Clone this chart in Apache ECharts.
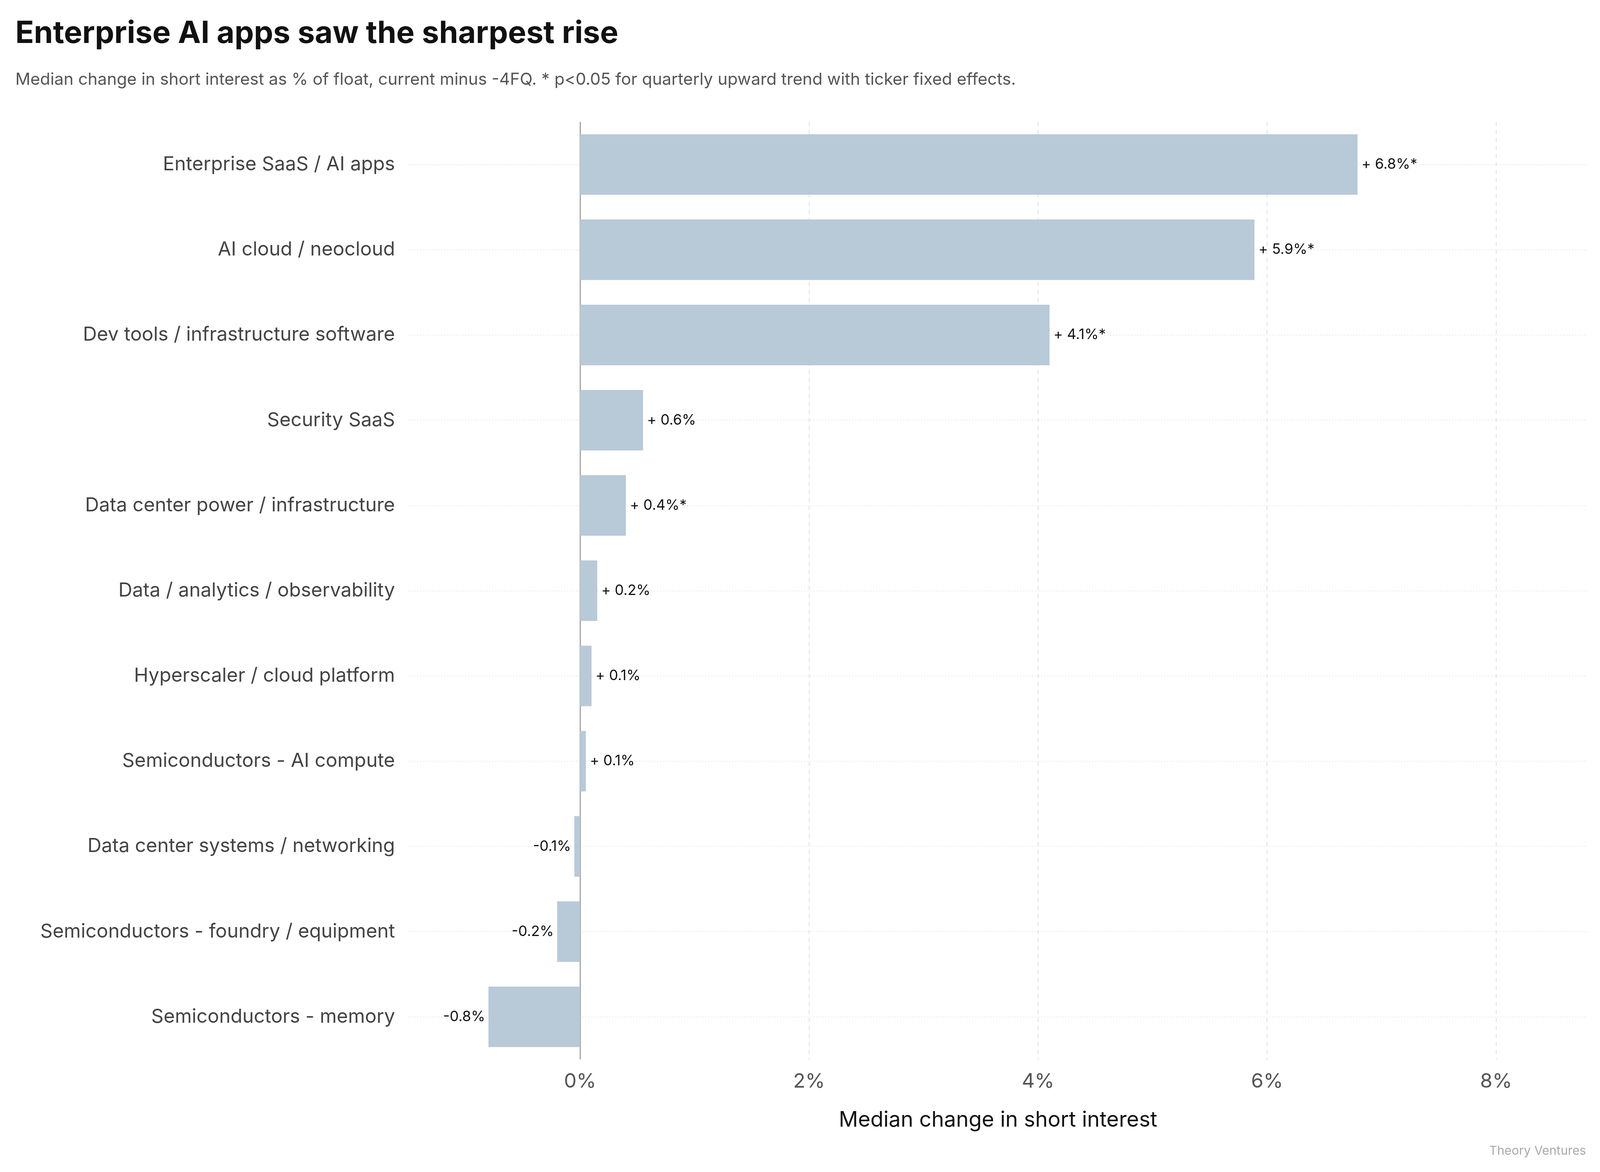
<!DOCTYPE html>
<html>
<head>
<meta charset="utf-8">
<script src="https://cdn.jsdelivr.net/npm/echarts@6/dist/echarts.min.js"></script>
<style>
  html, body { margin: 0; padding: 0; background: #fff; overflow: hidden; }
  #chart { width: 100vw; height: 100vh; }
</style>
</head>
<body>
<div id="chart"></div>
<script>
// 数据
const categories = [
    'Enterprise SaaS / AI apps',
    'AI cloud / neocloud',
    'Dev tools / infrastructure software',
    'Security SaaS',
    'Data center power / infrastructure',
    'Data / analytics / observability',
    'Hyperscaler / cloud platform',
    'Semiconductors - AI compute',
    'Data center systems / networking',
    'Semiconductors - foundry / equipment',
    'Semiconductors - memory'
];
const values = [6.79, 5.89, 4.10, 0.55, 0.40, 0.15, 0.10, 0.05, -0.05, -0.20, -0.80];
const valueLabels = ['+ 6.8%*', '+ 5.9%*', '+ 4.1%*', '+ 0.6%', '+ 0.4%*', '+ 0.2%', '+ 0.1%', '+ 0.1%', '-0.1%', '-0.2%', '-0.8%'];
const xTicks = [0, 2, 4, 6, 8];

const FONT = 'Inter, Roboto, sans-serif';
const dom = document.getElementById('chart');
const chart = echarts.init(dom);

// 按实际窗口尺寸缩放
const sx = dom.clientWidth / 4800;
const sy = dom.clientHeight / 3000;
const s = Math.min(sx, sy);

// 网格线用 markLine 画
const gridLines = xTicks.filter(v => v !== 0).map(v => ({
    xAxis: v,
    lineStyle: { color: '#e4e4e4', type: [12 * s, 12 * s], width: 3 * s }
}));
const rowLines = categories.map(c => ([
    { coord: [-1.5, c] },
    { coord: [8.8, c], lineStyle: { color: '#e8e8e8', type: [3 * s, 6 * s], width: 3 * s } }
]));

chart.setOption({
    animation: false,
    title: [{
        text: 'Enterprise AI apps saw the sharpest rise',
        left: 40 * sx, top: 42 * sy,
        textStyle: { fontFamily: FONT, fontSize: 92 * s, fontWeight: 'bold', color: '#111' }
    }, {
        text: 'Median change in short interest as % of float, current minus -4FQ. * p<0.05 for quarterly upward trend with ticker fixed effects.',
        left: 40 * sx, top: 178 * sy,
        textStyle: { fontFamily: FONT, fontSize: 50 * s, fontWeight: 'normal', color: '#555' }
    }, {
        text: 'Theory Ventures',
        right: 36 * sx, top: 2925 * sy,
        textStyle: { fontFamily: FONT, fontSize: 37 * s, fontWeight: 'normal', color: '#aaa' }
    }],
    grid: { left: 1225 * sx, right: 37 * sx, top: 312 * sy, bottom: 288 * sy },
    xAxis: {
        type: 'value',
        min: -1.5, max: 8.8, interval: 0.5,
        name: 'Median change in short interest',
        nameLocation: 'middle', nameGap: 150 * s,
        nameTextStyle: { fontFamily: FONT, fontSize: 64 * s, color: '#111' },
        axisLine: { show: false },
        axisTick: { show: false },
        splitLine: { show: false },
        axisLabel: {
            margin: 36 * s,
            fontFamily: FONT, fontSize: 60 * s, color: '#555',
            formatter: v => (xTicks.indexOf(v) >= 0 ? v + '%' : '')
        }
    },
    yAxis: {
        type: 'category',
        data: categories,
        inverse: true,
        axisLine: { show: false },
        axisTick: { show: false },
        splitLine: { show: false },
        axisLabel: { margin: 40 * s, fontFamily: FONT, fontSize: 58 * s, color: '#444' }
    },
    series: [{
        type: 'bar',
        data: values,
        barCategoryGap: '29%',
        itemStyle: { color: '#b8c9d8' },
        label: {
            show: true,
            position: 'right',
            distance: 12 * s,
            fontFamily: FONT, fontSize: 43 * s, color: '#111',
            formatter: p => valueLabels[p.dataIndex]
        },
        labelLayout: function (params) {
            // 负值标签放在左边
            const v = values[params.dataIndex];
            if (v < 0) {
                return { x: params.rect.x - 10 * s, y: params.rect.y + params.rect.height / 2, align: 'right', verticalAlign: 'middle' };
            }
            return {};
        },
        markLine: {
            silent: true,
            symbol: 'none',
            label: { show: false },
            z: 0,
            data: gridLines.concat(rowLines).concat([{
                xAxis: 0,
                lineStyle: { color: '#aaaaaa', type: 'solid', width: 4 * s }
            }])
        }
    }]
});
</script>
</body>
</html>
